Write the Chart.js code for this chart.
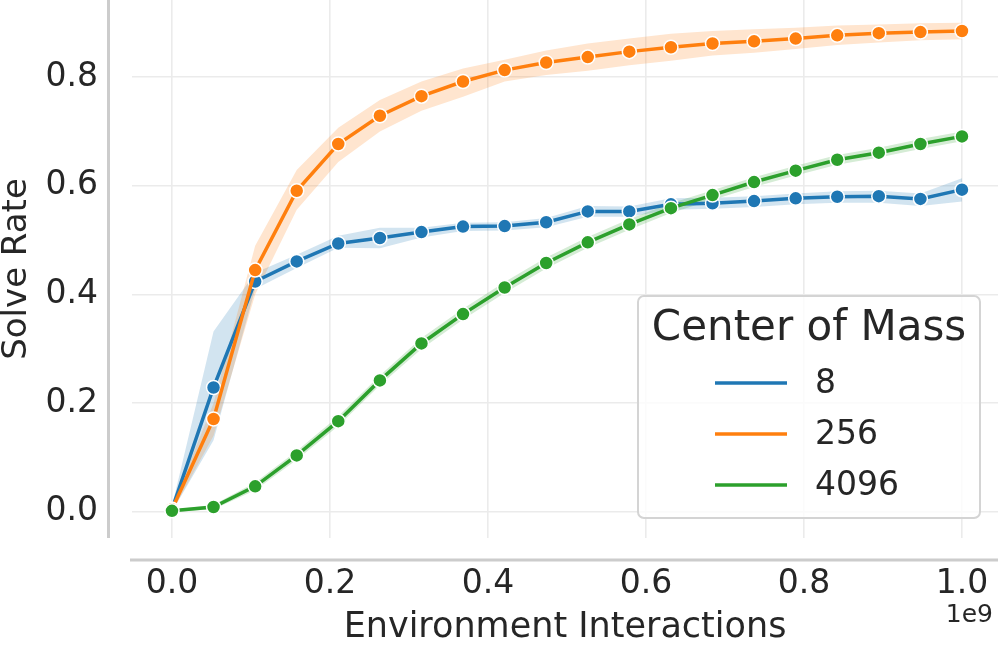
<!DOCTYPE html>
<html>
<head>
<meta charset="utf-8">
<script src="https://cdn.jsdelivr.net/npm/chart.js@4"></script>
<style>
  body { margin: 0; background: #fff; }
  #wrap { width: 998px; height: 647px; }
</style>
</head>
<body>
<div id="wrap"><canvas id="solveChart" width="998" height="647"></canvas></div>
<script>
// x values in units of 1e9 interactions
const steps = [0, 0.0526, 0.1053, 0.1579, 0.2105, 0.2632, 0.3158, 0.3684, 0.4211, 0.4737,
  0.5263, 0.5789, 0.6316, 0.6842, 0.7368, 0.7895, 0.8421, 0.8947, 0.9474, 1.0];

const seriesNames = ['8', '256', '4096'];
const colors = ['#1f77b4', '#ff7f0e', '#2ca02c'];
const bandColors = ['rgba(31,119,180,0.2)', 'rgba(255,127,14,0.2)', 'rgba(44,160,44,0.2)'];

const mean8 = [0.005, 0.229, 0.424, 0.461, 0.494, 0.504, 0.515, 0.525, 0.526, 0.533, 0.553, 0.553, 0.566, 0.568, 0.572, 0.577, 0.580, 0.581, 0.576, 0.593];
const low8 = [0.0, 0.132, 0.410, 0.449, 0.486, 0.485, 0.505, 0.517, 0.518, 0.524, 0.543, 0.543, 0.556, 0.558, 0.561, 0.566, 0.569, 0.569, 0.563, 0.571];
const high8 = [0.010, 0.332, 0.440, 0.473, 0.508, 0.523, 0.523, 0.532, 0.533, 0.541, 0.563, 0.562, 0.577, 0.578, 0.581, 0.586, 0.590, 0.591, 0.586, 0.614];

const mean256 = [0.005, 0.171, 0.445, 0.591, 0.677, 0.729, 0.765, 0.792, 0.813, 0.827, 0.837, 0.847, 0.855, 0.862, 0.866, 0.871, 0.877, 0.881, 0.883, 0.885];
const low256 = [0.0, 0.140, 0.400, 0.556, 0.644, 0.700, 0.738, 0.764, 0.792, 0.804, 0.812, 0.822, 0.830, 0.840, 0.845, 0.852, 0.859, 0.864, 0.868, 0.870];
const high256 = [0.010, 0.200, 0.490, 0.629, 0.707, 0.758, 0.792, 0.816, 0.832, 0.849, 0.862, 0.871, 0.880, 0.885, 0.888, 0.891, 0.895, 0.897, 0.899, 0.900];

const mean4096 = [0.002, 0.009, 0.047, 0.104, 0.167, 0.242, 0.310, 0.364, 0.413, 0.458, 0.496, 0.529, 0.559, 0.583, 0.607, 0.628, 0.648, 0.661, 0.677, 0.691];
const low4096 = [0.0, 0.005, 0.040, 0.096, 0.158, 0.233, 0.300, 0.354, 0.403, 0.448, 0.486, 0.519, 0.550, 0.574, 0.598, 0.619, 0.639, 0.652, 0.668, 0.682];
const high4096 = [0.004, 0.013, 0.054, 0.112, 0.176, 0.251, 0.320, 0.374, 0.423, 0.468, 0.506, 0.539, 0.568, 0.592, 0.616, 0.637, 0.657, 0.670, 0.686, 0.700];

const xTicks = [0, 0.2, 0.4, 0.6, 0.8, 1.0];
const yTicks = [0, 0.2, 0.4, 0.6, 0.8];

const means = [mean8, mean256, mean4096];
const lows = [low8, low256, low4096];
const highs = [high8, high256, high4096];

const FONT = 'DejaVu Sans';
const TEXT = '#262626';
const GRID = '#ebebeb';
const SPINE = '#cccccc';

const pts = arr => arr.map((v, i) => ({ x: steps[i], y: v }));

// bands first (drawn underneath), then lines; later series on top
let datasets = [];
seriesNames.forEach((name, k) => {
  datasets.push({
    label: name + ' hi', data: pts(highs[k]), fill: '+1', backgroundColor: bandColors[k],
    borderWidth: 0, pointRadius: 0, order: 10 + (3 - k)
  });
  datasets.push({
    label: name + ' lo', data: pts(lows[k]), fill: false,
    borderWidth: 0, pointRadius: 0, order: 10 + (3 - k)
  });
});
seriesNames.forEach((name, k) => {
  datasets.push({
    label: name, data: pts(means[k]), borderColor: colors[k], backgroundColor: colors[k],
    borderWidth: 3.5, tension: 0, fill: false,
    pointRadius: 7, pointBorderWidth: 1.5, pointBorderColor: '#ffffff', pointBackgroundColor: colors[k],
    order: 3 - k
  });
});

// offset spines, legend box and the 1e9 multiplier
const decorations = {
  id: 'decorations',
  afterDraw(chart) {
    const ctx = chart.ctx;
    const area = chart.chartArea;
    ctx.save();
    ctx.strokeStyle = SPINE;
    ctx.lineWidth = 3;
    ctx.beginPath();
    ctx.moveTo(108.5, area.top);
    ctx.lineTo(108.5, area.bottom);
    ctx.moveTo(130, 560);
    ctx.lineTo(chart.width, 560);
    ctx.stroke();

    ctx.fillStyle = TEXT;
    ctx.font = '25px "' + FONT + '"';
    ctx.textAlign = 'right';
    ctx.textBaseline = 'alphabetic';
    ctx.fillText('1e9', 993, 622);

    // legend
    const bx = 638, by = 296, bw = 342, bh = 222;
    ctx.beginPath();
    ctx.roundRect(bx, by, bw, bh, 6);
    ctx.fillStyle = 'rgba(255,255,255,0.8)';
    ctx.fill();
    ctx.strokeStyle = '#d4d4d4';
    ctx.lineWidth = 2;
    ctx.stroke();

    ctx.fillStyle = TEXT;
    ctx.textAlign = 'center';
    ctx.textBaseline = 'middle';
    ctx.font = '42px "' + FONT + '"';
    ctx.fillText('Center of Mass', bx + bw / 2, 329);

    ctx.font = '33px "' + FONT + '"';
    ctx.textAlign = 'left';
    const rowY = [383, 434, 485];
    seriesNames.forEach((name, k) => {
      ctx.strokeStyle = colors[k];
      ctx.lineWidth = 3.5;
      ctx.beginPath();
      ctx.moveTo(715, rowY[k]);
      ctx.lineTo(787, rowY[k]);
      ctx.stroke();
      ctx.fillStyle = TEXT;
      ctx.fillText(name, 815, rowY[k] + 1);
    });
    ctx.restore();
  }
};

const ctx = document.getElementById('solveChart').getContext('2d');
const solveChart = new Chart(ctx, {
  type: 'line',
  data: { datasets: datasets },
  options: {
    responsive: false,
    animation: false,
    devicePixelRatio: 1,
    layout: { padding: 0, autoPadding: false },
    plugins: {
      legend: { display: false },
      tooltip: { enabled: false }
    },
    scales: {
      x: {
        type: 'linear',
        min: -0.0506,
        max: 1.0456,
        afterBuildTicks: s => { s.ticks = xTicks.map(v => ({ value: v })); },
        afterFit: s => { s.height = 109; s.paddingLeft = 0; s.paddingRight = 0; },
        border: { display: false },
        grid: { color: GRID, lineWidth: 1.6, drawTicks: false },
        ticks: {
          padding: 27, color: TEXT, maxRotation: 0, autoSkip: false,
          font: { family: FONT, size: 33 },
          callback: v => v.toFixed(1)
        },
        title: {
          display: true, text: 'Environment Interactions', color: TEXT,
          font: { family: FONT, size: 35, lineHeight: 1 },
          padding: { top: 0, bottom: 2 }
        }
      },
      y: {
        min: -0.048,
        max: 0.942,
        afterBuildTicks: s => { s.ticks = yTicks.map(v => ({ value: v })); },
        afterFit: s => { s.width = 132; s.paddingTop = 0; s.paddingBottom = 0; },
        border: { display: false },
        grid: { color: GRID, lineWidth: 1.6, drawTicks: false },
        ticks: {
          padding: 34, color: TEXT,
          font: { family: FONT, size: 33 },
          callback: v => v.toFixed(1)
        },
        title: {
          display: true, text: 'Solve Rate', color: TEXT,
          font: { family: FONT, size: 34, lineHeight: 1 },
          padding: { top: 0, bottom: 0 }
        }
      }
    }
  },
  plugins: [decorations]
});
</script>
</body>
</html>
